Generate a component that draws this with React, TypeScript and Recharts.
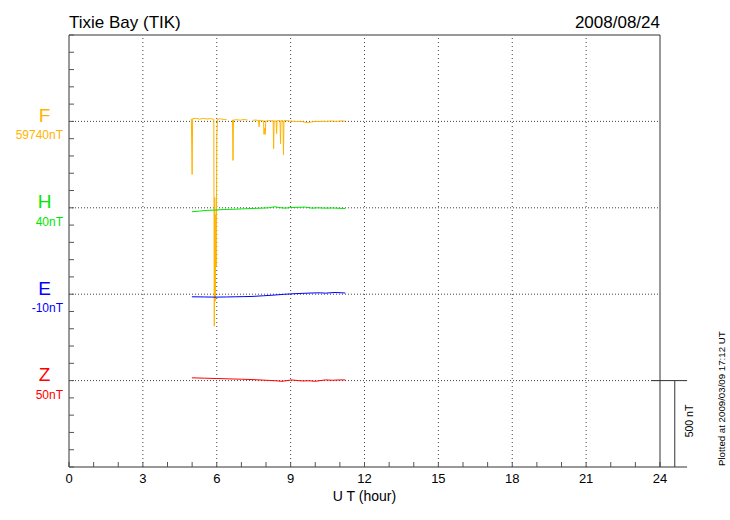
import React from 'react';
import { LineChart, Line, XAxis, YAxis, ReferenceLine } from 'recharts';

// ---- data ----
const components = ['F', 'H', 'E', 'Z'];
const baseValues = [59740, 40, -10, 50]; // nT shown under each component letter
const colors = ['#FFB400', '#00E600', '#0000FF', '#FF0000'];
const levels = [2000, 1500, 1000, 500]; // plotted baseline position of each trace (nT on the 0-2500 scale)
const hourLabels = [0, 3, 6, 9, 12, 15, 18, 21, 24];
const gridHours = [3, 6, 9, 12, 15, 18, 21];
const minorHourTicks = [0, 1, 2, 3, 4, 5, 6, 7, 8, 9, 10, 11, 12, 13, 14, 15, 16, 17, 18, 19, 20, 21, 22, 23, 24];
const minorNtTicks = [0, 100, 200, 300, 400, 500, 600, 700, 800, 900, 1000, 1100, 1200, 1300, 1400, 1500, 1600, 1700, 1800, 1900, 2000, 2100, 2200, 2300, 2400, 2500];
const scaleBarNt = 500;

const fHours = [4.97, 5.0, 5.02, 5.15, 5.3, 5.45, 5.6, 5.75, 5.88, 5.9, 5.92, 5.94, 5.96, 5.98, 6.0, 6.03, 6.15, 6.3, 6.4, 6.52, 6.64, 6.66, 6.68, 6.8, 6.95, 7.1, 7.25, 7.36, 7.46, 7.58, 7.7, 7.72, 7.74, 7.82, 7.9, 7.92, 7.94, 7.97, 7.99, 8.01, 8.1, 8.2, 8.29, 8.31, 8.33, 8.41, 8.43, 8.45, 8.52, 8.57, 8.59, 8.61, 8.69, 8.71, 8.73, 8.82, 8.95, 9.1, 9.25, 9.4, 9.55, 9.7, 9.85, 10.0, 10.15, 10.3, 10.45, 10.6, 10.75, 10.9, 11.05, 11.22];
const fValues: (number | null)[] = [59755, 59433, 59756, 59758, 59753, 59757, 59754, 59756, 59752, 58555, 59300, 58700, 59200, 58900, 59650, 59753, 59755, 59751, 59752, null, 59749, 59514, 59748, 59750, 59747, 59751, 59748, null, 59746, 59748, 59745, 59709, 59747, 59744, 59743, 59665, 59700, 59665, 59744, 59742, 59745, 59743, 59744, 59582, 59743, 59742, 59669, 59744, 59746, 59744, 59611, 59745, 59743, 59547, 59744, 59745, 59742, 59741, 59739, 59740, 59736, 59733, 59737, 59740, 59739, 59741, 59740, 59742, 59741, 59740, 59743, 59741];

const hHours = [4.99, 5.3, 5.6, 5.93, 6.3, 6.75, 7.1, 7.43, 7.8, 8.1, 8.37, 8.55, 8.78, 9.05, 9.3, 9.59, 9.87, 10.1, 10.41, 10.7, 11.0, 11.22];
const hValues = [17, 21, 25, 27, 30, 32, 34, 36, 38, 40, 46, 41, 38, 42, 43, 44, 38, 40, 38, 39, 37, 36];

const eHours = [4.99, 5.5, 5.93, 6.4, 6.75, 7.1, 7.43, 7.9, 8.24, 8.7, 9.05, 9.5, 9.87, 10.2, 10.41, 10.8, 11.22];
const eValues = [-25, -26, -27, -26, -25, -24, -23, -19, -16, -11, -8, -5, -3, -2, -4, 0, -3];

const zHours = [4.99, 5.5, 6.0, 6.5, 7.0, 7.43, 8.0, 8.4, 8.65, 9.05, 9.3, 9.51, 9.75, 10.0, 10.41, 10.7, 11.0, 11.22];
const zValues = [66, 64, 62, 60, 58, 56, 52, 49, 46, 54, 50, 48, 49, 46, 54, 52, 54, 54];

const seriesHours = [fHours, hHours, eHours, zHours];
const seriesValues: (number | null)[][] = [fValues, hValues, eValues, zValues];

const seriesData = components.map((_, i) =>
  seriesHours[i].map((h, j) => {
    const v = seriesValues[i][j];
    return { h, v: v === null ? null : levels[i] + (v - baseValues[i]) };
  })
);

const ComponentTick = (props: any) => {
  const { y, payload } = props;
  const i = levels.indexOf(payload.value);
  if (i < 0) return <g />;
  return (
    <g>
      <text x={44.5} y={y + 0.5} textAnchor="middle" fontSize={19} fill={colors[i]}>
        {components[i]}
      </text>
      <text x={63} y={y + 18} textAnchor="end" fontSize={12} fill={colors[i]}>
        {`${baseValues[i]}nT`}
      </text>
    </g>
  );
};

const HourTick = (props: any) => {
  const { x, y, payload } = props;
  if (!hourLabels.includes(payload.value)) return <g />;
  return (
    <text x={x} y={y} dy="0.71em" textAnchor="middle" fontSize={13} fill="#000">
      {payload.value}
    </text>
  );
};

const frame = '#333';
const tickCol = '#555';
const gridCol = '#444';

export default function App() {
  return (
    <div
      style={{
        position: 'absolute',
        left: 0,
        top: 0,
        width: 730,
        height: 520,
        background: '#fff',
        fontFamily: "'Liberation Sans', Arial, sans-serif",
      }}
    >
      <LineChart width={730} height={520} margin={{ top: 34, right: 69, bottom: 52, left: 68 }}>
        <XAxis
          xAxisId="main"
          dataKey="h"
          type="number"
          domain={[0, 24]}
          allowDataOverflow
          ticks={minorHourTicks}
          interval={0}
          height={1}
          tickSize={-5}
          tickMargin={12}
          tickLine={{ stroke: tickCol }}
          axisLine={{ stroke: frame }}
          tick={<HourTick />}
          label={{ value: 'U T (hour)', position: 'bottom', offset: 23, fill: '#000', fontSize: 14 }}
        />
        <XAxis
          xAxisId="top"
          orientation="top"
          type="number"
          domain={[0, 24]}
          allowDataOverflow
          ticks={minorHourTicks}
          interval={0}
          height={1}
          tick={false}
          tickSize={-5}
          axisLine={{ stroke: frame }}
          tickLine={{ stroke: tickCol }}
        />
        <YAxis
          yAxisId="main"
          type="number"
          domain={[0, 2500]}
          allowDataOverflow
          ticks={minorNtTicks}
          interval={0}
          width={1}
          tickSize={-5}
          tickLine={{ stroke: tickCol }}
          axisLine={{ stroke: frame }}
          tick={<ComponentTick />}
        />
        <YAxis
          yAxisId="right"
          orientation="right"
          type="number"
          domain={[0, 2500]}
          allowDataOverflow
          ticks={minorNtTicks}
          interval={0}
          width={1}
          tick={false}
          tickSize={-5}
          axisLine={{ stroke: frame }}
          tickLine={{ stroke: tickCol }}
        />
        {gridHours.map((h) => (
          <ReferenceLine
            key={`gx${h}`}
            xAxisId="main"
            yAxisId="main"
            x={h}
            stroke={gridCol}
            strokeDasharray="1 3"
          />
        ))}
        {levels.map((lv) => (
          <ReferenceLine
            key={`gy${lv}`}
            xAxisId="main"
            yAxisId="main"
            y={lv}
            stroke={gridCol}
            strokeDasharray="1 2"
          />
        ))}
        {components.map((c, i) => (
          <Line
            key={c}
            xAxisId="main"
            yAxisId="main"
            data={seriesData[i]}
            dataKey="v"
            type="linear"
            stroke={colors[i]}
            strokeWidth={1}
            dot={false}
            activeDot={false}
            connectNulls={false}
            isAnimationActive={false}
          />
        ))}
        <ReferenceLine
          xAxisId="main"
          yAxisId="main"
          ifOverflow="visible"
          segment={[{ x: 24.6, y: 0 }, { x: 24.6, y: scaleBarNt }]}
          stroke={frame}
        />
        <ReferenceLine
          xAxisId="main"
          yAxisId="main"
          ifOverflow="visible"
          segment={[{ x: 23.65, y: scaleBarNt }, { x: 25.1, y: scaleBarNt }]}
          stroke={frame}
        />
        <ReferenceLine
          xAxisId="main"
          yAxisId="main"
          ifOverflow="visible"
          segment={[{ x: 24, y: 0 }, { x: 25.1, y: 0 }]}
          stroke={frame}
        />
      </LineChart>
      <svg
        width={730}
        height={520}
        style={{ position: 'absolute', left: 0, top: 0, pointerEvents: 'none' }}
      >
        <text x={69} y={28} fontSize={17} fill="#000">Tixie Bay (TIK)</text>
        <text x={660} y={28} fontSize={17} fill="#000" textAnchor="end">2008/08/24</text>
        <text x={692.5} y={421} fontSize={10.5} fill="#000" textAnchor="middle" transform="rotate(-90 692.5 421)">
          {`${scaleBarNt} nT`}
        </text>
        <text x={724.5} y={466} fontSize={9.7} fill="#000" textAnchor="start" transform="rotate(-90 724.5 466)">
          Plotted at 2009/03/09 17:12 UT
        </text>
      </svg>
    </div>
  );
}
